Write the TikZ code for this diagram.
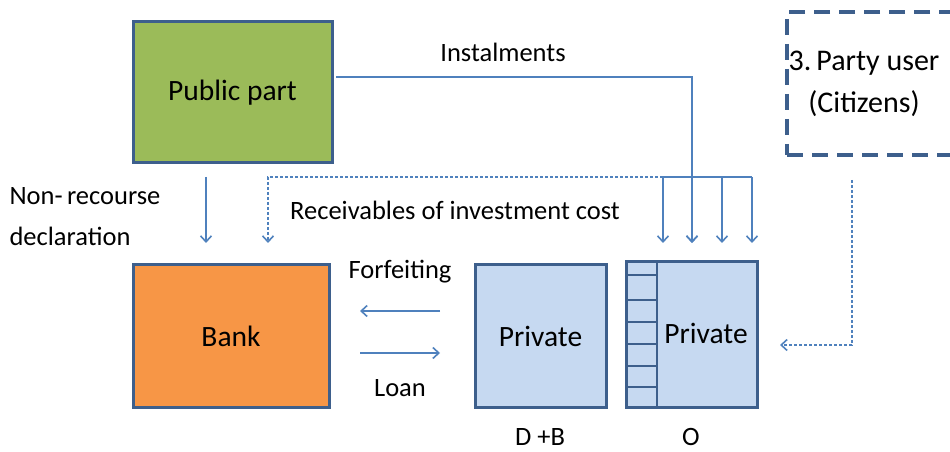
\documentclass[tikz,border=0pt]{standalone}
\usepackage{fontspec}
\setmainfont{Carlito}
\usepackage{xcolor}
\usetikzlibrary{arrows.meta}
\definecolor{frame}{HTML}{3D5F8C}
\definecolor{flow}{HTML}{4F81BD}
\definecolor{pubgreen}{HTML}{9BBB59}
\definecolor{bankorange}{HTML}{F79646}
\definecolor{privblue}{HTML}{C6D9F1}

\begin{document}
\begin{tikzpicture}[x=1pt,y=1pt,
      box/.style={draw=frame,line width=3pt,minimum width=#1,inner sep=0pt,font=\fontsize{29.5}{32}\selectfont},
      arr/.style={draw=flow,line width=1.6pt,-{Straight Barb[length=6pt,width=11pt,line width=1.6pt]}},
      dotarr/.style={arr,dash pattern=on 3pt off 2pt},
      lbl/.style={font=\fontsize{26.5}{30}\selectfont}]
      \useasboundingbox (0,0) rectangle (950,452);

      % boxes
      \node[box=199pt,minimum height=141pt,fill=pubgreen] (pub) at (232.5,359.5) {Public part};
      \node[box=196pt,minimum height=143pt,fill=bankorange] (bank) at (231,115.5) {Bank};
      \node[box=131pt,minimum height=143pt,fill=privblue] (priv1) at (540.5,115.5) {Private};
      \node[box=131pt,minimum height=146pt,fill=privblue] (priv2) at (691.5,117) {};
      \node[font=\fontsize{29.5}{32}\selectfont] (privtxt) at (706,119) {Private};
      \draw[frame,line width=2pt] (657,190) -- (657,44);
      \foreach \y in {177,152,130,108,86,65}
        \draw[frame,line width=2pt] (626,\y) -- (657,\y);
      \node[draw=frame,line width=3.5pt,dash pattern=on 16pt off 9pt,minimum width=200pt,minimum height=143pt] (user) at (887,368.5) {};
      \node[align=center,font=\fontsize{30}{42}\selectfont] (usertxt) at (864,368) {3.\,Party user\\(Citizens)};

      % labels
      \node[lbl] (inst) at (503,400) {Instalments};
      \node[lbl,anchor=west,align=left] (nonrec) at (6,235) {Non-\,recourse\\[11pt]declaration};
      \node[lbl] (recv) at (455,242) {Receivables of investment cost};
      \node[lbl] (forf) at (400,180) {Forfeiting};
      \node[lbl] (loan) at (400,64) {Loan};
      \node[lbl] (db) at (540,15) {D +B};
      \node[lbl] (o) at (691,15) {O};

      % flows
      \coordinate (fork) at (663,275);
      \draw[arr] (336,375) -| (692,209);
      \draw[flow,line width=1.6pt] (fork) -- (752,275);
      \foreach \x in {663,692,722,752}
        \draw[arr] (\x,275) -- (\x,209);
      \draw[arr] (206,275) -- (206,209);
      \draw[dotarr] (fork) -| (268,209);
      \draw[arr] (440,141) -- (360,141);
      \draw[arr] (360,99) -- (440,99);
      \draw[dotarr] (852,272) |- (780,107);
    \end{tikzpicture}
\end{document}
